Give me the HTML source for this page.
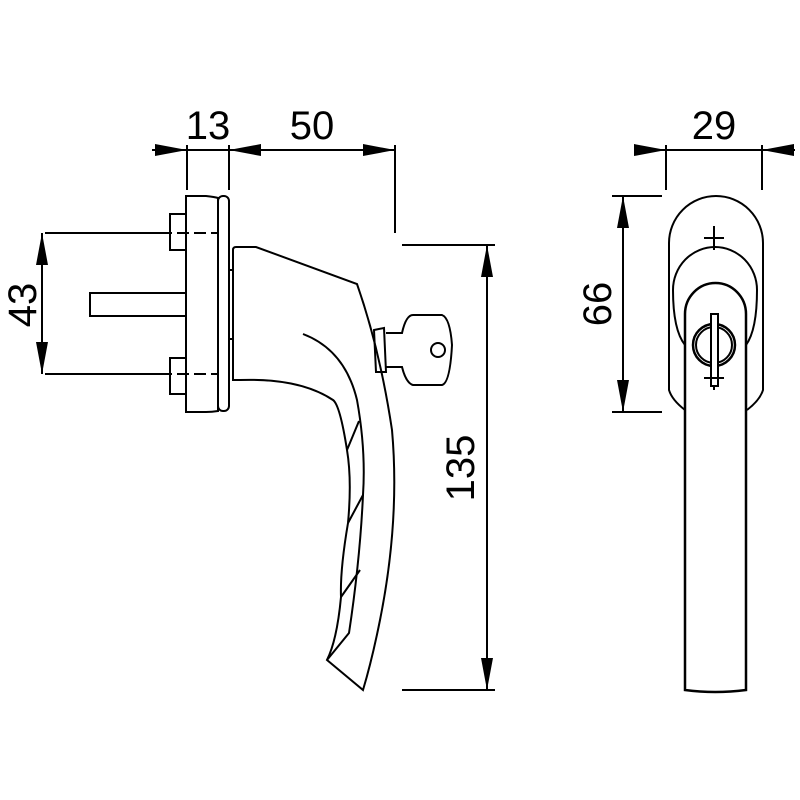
<!DOCTYPE html>
<html><head><style>html,body{margin:0;padding:0;background:#fff}svg{display:block}</style></head><body>
<svg width="800" height="800" viewBox="0 0 800 800" xmlns="http://www.w3.org/2000/svg">
<defs>
<marker id="a" viewBox="0 0 32 12" refX="32" refY="6" markerWidth="32" markerHeight="12" markerUnits="userSpaceOnUse" orient="auto-start-reverse"><path d="M0,0L32,6L0,12z" fill="#000"/></marker>
</defs>
<g font-family="Liberation Sans, sans-serif" font-size="40" fill="#000">
<text x="208" y="139" text-anchor="middle">13</text>
<text x="312" y="139" text-anchor="middle">50</text>
<text x="714" y="139" text-anchor="middle">29</text>
<text transform="translate(36,305) rotate(-90)" text-anchor="middle">43</text>
<text transform="translate(611,304) rotate(-90)" text-anchor="middle">66</text>
<text transform="translate(474,468) rotate(-90)" text-anchor="middle">135</text>
</g>
<g stroke="#000" stroke-width="2" fill="none">
<line x1="187" y1="145" x2="187" y2="190"/><line x1="229" y1="145" x2="229" y2="190"/><line x1="395" y1="145" x2="395" y2="233"/>
<line x1="152" y1="150" x2="187" y2="150" marker-end="url(#a)"/>
<line x1="187" y1="150" x2="229" y2="150"/>
<line x1="229" y1="150" x2="395" y2="150" marker-start="url(#a)" marker-end="url(#a)"/>
<line x1="45" y1="233" x2="160" y2="233"/><line x1="45" y1="374" x2="160" y2="374"/>
<line x1="42" y1="233" x2="42" y2="374" marker-start="url(#a)" marker-end="url(#a)"/>
<line x1="160" y1="233" x2="218" y2="233" stroke-dasharray="12,5"/>
<line x1="160" y1="374" x2="218" y2="374" stroke-dasharray="12,5"/>
<line x1="402" y1="245" x2="495" y2="245"/><line x1="402" y1="690" x2="495" y2="690"/>
<line x1="487" y1="245" x2="487" y2="690" marker-start="url(#a)" marker-end="url(#a)"/>
<line x1="666" y1="145" x2="666" y2="190"/><line x1="762" y1="145" x2="762" y2="190"/>
<line x1="635" y1="150" x2="666" y2="150" marker-end="url(#a)"/>
<line x1="666" y1="150" x2="762" y2="150"/>
<line x1="795" y1="150" x2="762" y2="150" marker-end="url(#a)"/>
<line x1="612" y1="196" x2="662" y2="196"/><line x1="612" y1="412" x2="662" y2="412"/>
<line x1="623" y1="196" x2="623" y2="412" marker-start="url(#a)" marker-end="url(#a)"/>

<path d="M186,196 L206,196 Q215,197 218,198 L218,411 Q212,412 206,412 L186,412 Z"/>
<rect x="218" y="196" width="11" height="215" rx="5"/>
<path d="M186,214 L170,214 L170,250 L186,250 M186,358 L170,358 L170,394 L186,394"/>
<path d="M186,293 L90,293 L90,316 L186,316"/>
<path d="M229,270 L233,270 M229,339 L233,339"/>
<path d="M233,380 L233,250 Q233,247 236,247 L256,247 L357,284 Q380,350 392,430 Q400,520 380,620 Q372,660 363,690 L327,660 Q337,640 341,597 Q340,570 348,523 Q352,480 347,450 Q340,405 333,400 Q300,378 240,380 Z"/>
<path d="M303,334 Q345,350 357,400 Q366,450 363,495 Q360,560 349,633 L327,660"/>
<path d="M347,450 L359,421 M348,523 L363,495 M341,597 L360,570"/>
<path d="M374,330 L384,328 L386,372 L376,372 Z"/>
<path d="M386,333 L402,333 Q406,315 413,315 L442,315 Q450,318 452,345 Q450,383 442,385 L413,385 Q406,383 402,367 L386,367"/>
<circle cx="438" cy="350" r="7"/>

<path d="M685,410 Q672,400 669,390 L669,243 A47,47 0 0 1 763,243 L763,390 Q760,400 747,410"/>
<path d="M685,345 Q673,330 673,290 A42,43 0 0 1 757,290 Q757,330 746,345"/>
<path d="M685,690 L685,314 A30.5,31 0 0 1 746,314 L746,690 Q715,694 685,690 Z" stroke-width="2.5"/>
<path d="M704,238 L724,238 M714,226 L714,250"/>
<circle cx="714" cy="345" r="21" stroke-width="2.5"/>
<circle cx="714" cy="345" r="18"/>
<rect x="711" y="314" width="7" height="72" fill="#fff"/>
<path d="M704,378 L724,378 M714,386 L714,390"/>
</g>
</svg>
</body></html>
